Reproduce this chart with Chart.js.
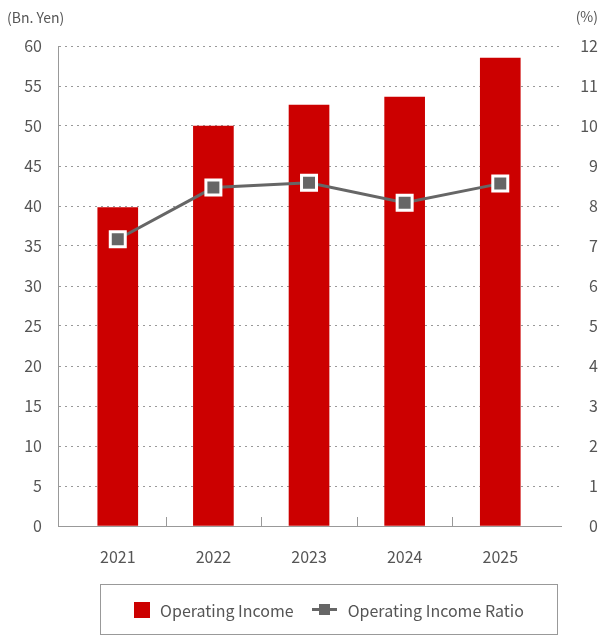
<!DOCTYPE html>
<html>
<head>
<meta charset="utf-8">
<script src="https://cdn.jsdelivr.net/npm/chart.js@4.4.1/dist/chart.umd.min.js"></script>
<style>
    body { margin: 0; background: #fff; }
    #wrap { position: relative; width: 598px; height: 636px; }
    #legend {
        position: absolute; left: 100px; top: 584px; width: 458px; height: 51px;
        box-sizing: border-box; border: 1px solid #999;
        display: flex; align-items: center; justify-content: center;
        font-family: "Noto Sans CJK JP", "Noto Sans", sans-serif; font-size: 16px; color: #555;
    }
    .item { display: flex; align-items: center; margin: 0 9px; }
    .box { width: 16px; height: 16px; margin-right: 10px; }
    .lineIcon { position: relative; width: 25px; height: 11px; margin-right: 11px; }
    .lineIcon span { position: absolute; }
</style>
</head>
<body>
<div id="wrap">
    <canvas id="chart" width="598" height="636"></canvas>
    <div id="legend"></div>
</div>
<script>
// data
const years = ['2021', '2022', '2023', '2024', '2025'];
const operatingIncome = [39.8, 50.0, 52.6, 53.6, 58.5];       // Bn. Yen
const operatingIncomeRatio = [7.17, 8.46, 8.58, 8.08, 8.56];  // %
const leftTicks = { min: 0, max: 60, step: 5 };
const rightTicks = { min: 0, max: 12, step: 1 };

const FONT = '"Noto Sans CJK JP", "Noto Sans", sans-serif';
const TEXT = '#555';
const RED = '#cc0000';
const GREY = '#666';

// unit labels above the two y axes + small boundary ticks on the x axis
const extras = {
    id: 'extras',
    beforeDatasetsDraw(chart) {
        const ctx = chart.ctx;
        const x = chart.scales.x;
        const bottom = chart.chartArea.bottom;
        ctx.save();
        ctx.strokeStyle = '#999';
        ctx.lineWidth = 1;
        for (let i = 0; i < years.length - 1; i++) {
            const px = Math.round(x.getPixelForValue(i + 0.5)) + 0.5;
            ctx.beginPath();
            ctx.moveTo(px, bottom - 9);
            ctx.lineTo(px, bottom);
            ctx.stroke();
        }
        ctx.restore();
    },
    afterDraw(chart) {
        const ctx = chart.ctx;
        ctx.save();
        ctx.fillStyle = TEXT;
        ctx.font = '14px ' + FONT;
        ctx.textBaseline = 'middle';
        ctx.textAlign = 'left';
        ctx.fillText('(Bn. Yen)', 7, 18);
        ctx.textAlign = 'right';
        ctx.fillText('(%)', 598, 17);
        ctx.restore();
    }
};

const ctx = document.getElementById('chart').getContext('2d');
const chart = new Chart(ctx, {
    data: {
        datasets: [
            {
                type: 'line',
                label: 'Operating Income Ratio',
                data: years.map((_, i) => ({ x: i, y: operatingIncomeRatio[i] })),
                yAxisID: 'y1',
                borderColor: GREY,
                borderWidth: 3,
                pointStyle: 'rect',
                pointRadius: 10.6,
                pointBackgroundColor: GREY,
                pointBorderColor: '#fff',
                pointBorderWidth: 3,
                order: 0
            },
            {
                type: 'bar',
                label: 'Operating Income',
                data: years.map((_, i) => ({ x: i, y: operatingIncome[i] })),
                yAxisID: 'y',
                backgroundColor: RED,
                barThickness: 40,
                order: 1
            }
        ]
    },
    options: {
        responsive: false,
        animation: false,
        devicePixelRatio: 1,
        layout: { padding: { top: 46, bottom: 70, left: 0, right: 0 } },
        plugins: {
            legend: { display: false },
            tooltip: { enabled: false }
        },
        scales: {
            x: {
                type: 'linear',
                offset: false,
                min: -0.625,
                max: 4.635,
                afterBuildTicks: s => { s.ticks = years.map((_, i) => ({ value: i })); },
                afterFit: s => { s.height = 40; },
                grid: { display: false, offset: false },
                border: { display: true, color: '#999', width: 1 },
                ticks: {
                    callback: v => years[v],
                    color: TEXT,
                    font: { family: FONT, size: 16 },
                    padding: 13,
                    maxRotation: 0
                }
            },
            y: {
                position: 'left',
                min: leftTicks.min,
                max: leftTicks.max,
                afterFit: s => { s.width = 58; },
                grid: { color: '#999', drawTicks: false },
                border: { display: true, color: '#999', width: 1, dash: [2, 4] },
                ticks: {
                    stepSize: leftTicks.step,
                    color: TEXT,
                    font: { family: FONT, size: 16 },
                    padding: 16
                }
            },
            y1: {
                position: 'right',
                min: rightTicks.min,
                max: rightTicks.max,
                afterFit: s => { s.width = 37; },
                grid: { display: false, drawTicks: false },
                border: { display: false },
                ticks: {
                    stepSize: rightTicks.step,
                    color: TEXT,
                    font: { family: FONT, size: 16 },
                    padding: 16,
                    crossAlign: 'far'
                }
            }
        }
    },
    plugins: [extras]
});

// html legend built from the datasets, bar first
const legend = document.getElementById('legend');
chart.data.datasets.slice().reverse().forEach(ds => {
    const item = document.createElement('div');
    item.className = 'item';
    if (ds.type === 'bar') {
        item.innerHTML = '<div class="box" style="background:' + ds.backgroundColor + '"></div>';
    } else {
        item.innerHTML = '<div class="lineIcon">' +
            '<span style="left:0;top:4px;width:25px;height:3px;background:' + ds.borderColor + '"></span>' +
            '<span style="left:7px;top:0;width:11px;height:11px;background:' + ds.pointBackgroundColor + '"></span></div>';
    }
    const label = document.createElement('span');
    label.textContent = ds.label;
    item.appendChild(label);
    legend.appendChild(item);
});
</script>
</body>
</html>
